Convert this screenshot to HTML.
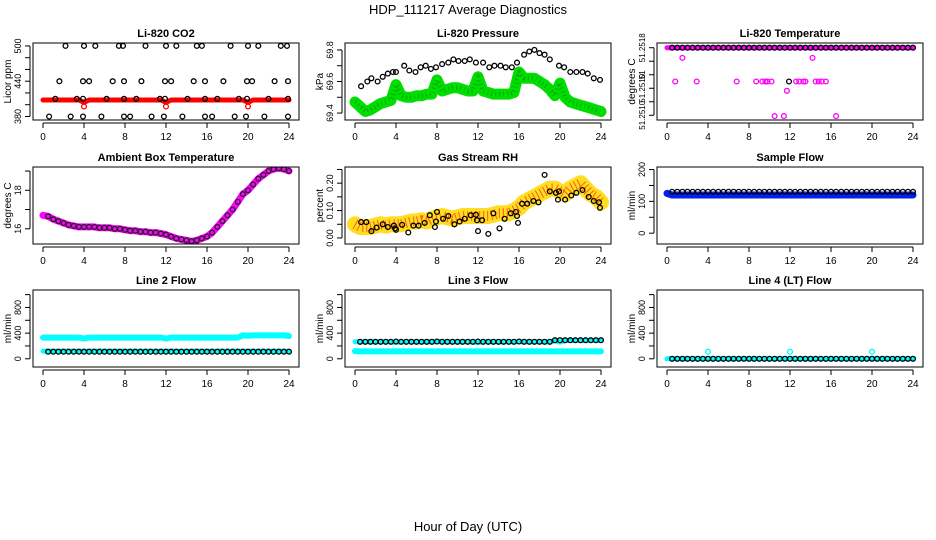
<!DOCTYPE html>
<html><head><meta charset="utf-8">
<style>
html,body{margin:0;padding:0;background:#fff;}
svg{display:block;font-family:"Liberation Sans",Arial,sans-serif;}
</style></head>
<body>
<svg id="chart" width="936" height="540" viewBox="0 0 936 540" xmlns="http://www.w3.org/2000/svg">
<text x="468" y="14" text-anchor="middle" font-size="13">HDP_111217  Average Diagnostics</text>
<text x="468" y="531" text-anchor="middle" font-size="13">Hour of Day (UTC)</text>
</svg>
<script>
// ---- data ----
const hours = [0,0.5,1,1.5,2,2.5,3,3.5,4,4.5,5,5.5,6,6.5,7,7.5,8,8.5,9,9.5,10,10.5,11,11.5,12,12.5,13,13.5,14,14.5,15,15.5,16,16.5,17,17.5,18,18.5,19,19.5,20,20.5,21,21.5,22,22.5,23,23.5,24];
const xTicks = [0,4,8,12,16,20,24];

const co2Red = [408,408,408,408,408,408,408,408,404,408,408,408,408,408,408,408,408,408,408,408,408,408,408,408,404,408,408,408,408,408,408,408,408,408,408,408,408,408,408,408,404,408,408,408,408,408,408,408,408];
const co2RedDipT = [4,12,20];
const co2RedDipV = [397,397,397];
const co2BlackT = [2.2,4,5.1,7.4,7.8,10,12,13,15,15.5,18.3,20,21,23.2,23.8, 1.6,3.9,4.5,6.8,7.9,9.6,11.9,12.5,14.7,15.8,17.6,19.9,20.4,22.6,23.9, 1.2,3.3,3.9,6.2,7.9,9.1,11.4,11.9,14.1,15.8,17,19.1,19.9,22,23.9, 0.6,2.7,3.9,5.7,7.9,8.5,10.6,11.8,13.6,15.8,16.5,18.7,19.8,21.6,23.9];
const co2BlackV = [500,500,500,500,500,500,500,500,500,500,500,500,500,500,500, 440,440,440,440,440,440,440,440,440,440,440,440,440,440,440, 410,410,410,410,410,410,410,410,410,410,410,410,410,410,410, 380,380,380,380,380,380,380,380,380,380,380,380,380,380,380];

const presGreen = [69.47,69.44,69.41,69.42,69.44,69.46,69.47,69.48,69.58,69.51,69.50,69.50,69.51,69.51,69.52,69.52,69.61,69.54,69.55,69.56,69.56,69.55,69.54,69.54,69.63,69.54,69.53,69.52,69.52,69.52,69.52,69.53,69.66,69.62,69.62,69.62,69.60,69.58,69.55,69.51,69.59,69.50,69.47,69.46,69.45,69.44,69.43,69.42,69.41];
const presBlackT = [0.6,1.2,1.6,2.2,2.7,3.2,3.7,4,4.8,5.3,5.9,6.4,6.9,7.4,7.9,8.5,9.1,9.6,10.1,10.7,11.2,11.8,12.5,13.1,13.6,14.2,14.7,15.3,15.8,16.5,17,17.5,18,18.5,19,19.9,20.4,21,21.6,22.2,22.7,23.3,23.9];
const presBlackV = [69.57,69.60,69.62,69.60,69.63,69.65,69.66,69.66,69.70,69.67,69.66,69.69,69.70,69.68,69.69,69.71,69.72,69.74,69.73,69.73,69.74,69.72,69.72,69.69,69.70,69.70,69.69,69.69,69.72,69.77,69.79,69.80,69.78,69.77,69.74,69.70,69.69,69.66,69.66,69.66,69.65,69.62,69.61];

const tempTopV = [51.2518,51.2518,51.2518,51.2518,51.2518,51.2518,51.2518,51.2518,51.2518,51.2518,51.2518,51.2518,51.2518,51.2518,51.2518,51.2518,51.2518,51.2518,51.2518,51.2518,51.2518,51.2518,51.2518,51.2518,51.2518,51.2518,51.2518,51.2518,51.2518,51.2518,51.2518,51.2518,51.2518,51.2518,51.2518,51.2518,51.2518,51.2518,51.2518,51.2518,51.2518,51.2518,51.2518,51.2518,51.2518,51.2518,51.2518,51.2518,51.2518];
const tempMagT = [0.8,1.5,2.9,6.8,8.7,9.3,9.6,9.8,10.2,10.5,11.4,11.7,12.6,12.9,13.3,13.5,14.2,14.5,14.8,15.1,15.5,16.5];
const tempMagV = [51.2514,51.25168,51.2514,51.2514,51.2514,51.2514,51.2514,51.2514,51.2514,51.25099,51.25099,51.25129,51.2514,51.2514,51.2514,51.2514,51.25168,51.2514,51.2514,51.2514,51.2514,51.25099];
const tempBlkT = [11.9];
const tempBlkV = [51.2514];

const ambient = [16.7,16.65,16.5,16.4,16.3,16.2,16.15,16.1,16.1,16.1,16.1,16.05,16.05,16.05,16.0,16.0,15.95,15.9,15.9,15.85,15.85,15.8,15.8,15.75,15.7,15.6,15.5,15.45,15.4,15.35,15.4,15.5,15.6,15.8,16.1,16.4,16.7,17.0,17.4,17.8,18.0,18.3,18.6,18.8,19.0,19.1,19.15,19.1,19.0];

const rhBand = [0.05,0.04,0.04,0.04,0.045,0.05,0.045,0.05,0.05,0.05,0.055,0.06,0.06,0.065,0.06,0.07,0.075,0.08,0.075,0.07,0.075,0.08,0.08,0.08,0.08,0.08,0.08,0.085,0.09,0.09,0.09,0.1,0.11,0.13,0.14,0.15,0.16,0.17,0.18,0.18,0.17,0.16,0.18,0.19,0.2,0.18,0.16,0.15,0.13];
const rhBlackT = [0.6,1.1,1.6,2.1,2.7,3.2,3.8,3.9,4.0,4.6,5.2,5.7,6.2,6.8,7.3,7.8,7.9,8.0,8.6,9.1,9.7,10.2,10.7,11.3,11.8,11.9,12,12.4,13.0,13.5,14.1,14.6,15.2,15.7,15.8,15.9,16.3,16.8,17.4,17.9,18.5,19.0,19.6,19.8,19.9,20.5,21.1,21.6,22.2,22.8,23.3,23.8,23.9];
const rhBlackV = [0.058,0.058,0.025,0.038,0.05,0.04,0.045,0.035,0.03,0.048,0.02,0.045,0.045,0.055,0.083,0.04,0.06,0.095,0.07,0.08,0.05,0.06,0.07,0.083,0.085,0.065,0.025,0.065,0.015,0.09,0.035,0.07,0.09,0.095,0.08,0.055,0.125,0.125,0.135,0.13,0.23,0.17,0.165,0.14,0.17,0.14,0.155,0.165,0.175,0.15,0.135,0.13,0.11];

const sampleBlue = [125,120,120,120,120,120,120,120,120,120,120,120,120,120,120,120,120,120,120,120,120,120,120,120,120,120,120,120,120,120,120,120,120,120,120,120,120,120,120,120,120,120,120,120,120,120,120,120,120];
const sampleBlack = [130,130,130,130,130,130,130,130,130,130,130,130,130,130,130,130,130,130,130,130,130,130,130,130,130,130,130,130,130,130,130,130,130,130,130,130,130,130,130,130,130,130,130,130,130,130,130,130,130];

const l2CyanHi = [330,330,330,330,330,330,330,330,315,330,330,330,330,330,330,330,330,330,330,330,330,330,330,330,315,330,330,330,330,330,330,330,330,330,330,330,330,330,330,365,360,365,365,365,365,365,365,365,355];
const l2CyanLo = [120,120,120,120,120,120,120,120,120,120,120,120,120,120,120,120,120,120,120,120,120,120,120,120,120,120,120,120,120,120,120,120,120,120,120,120,120,120,120,120,120,120,120,120,120,120,120,120,120];
const l2Black = [110,110,110,110,110,110,110,110,110,110,110,110,110,110,110,110,110,110,110,110,110,110,110,110,110,110,110,110,110,110,110,110,110,110,110,110,110,110,110,110,110,110,110,110,110,110,110,110,110];

const l3CyanHi = [265,265,265,265,265,265,265,265,250,265,265,265,265,265,265,265,265,265,265,265,265,265,265,265,250,265,265,265,265,265,265,265,265,265,265,265,265,265,265,280,260,285,285,285,285,285,285,285,285];
const l3CyanLo = [120,115,115,115,115,115,115,115,115,115,115,115,115,115,115,115,115,115,115,115,115,115,115,115,115,115,115,115,115,115,115,115,115,115,115,115,115,115,115,115,115,115,115,115,115,115,115,115,115];
const l3Black = [265,265,265,265,265,265,265,265,270,265,265,265,265,265,265,265,270,265,265,265,265,265,265,265,270,265,265,265,265,265,265,265,270,265,265,265,265,265,265,290,290,290,290,290,290,290,290,290,290];

const l4Cyan = [0,0,0,0,0,0,0,0,0,0,0,0,0,0,0,0,0,0,0,0,0,0,0,0,0,0,0,0,0,0,0,0,0,0,0,0,0,0,0,0,0,0,0,0,0,0,0,0,0];
const l4Black = [0,0,0,0,0,0,0,0,0,0,0,0,0,0,0,0,0,0,0,0,0,0,0,0,0,0,0,0,0,0,0,0,0,0,0,0,0,0,0,0,0,0,0,0,0,0,0,0,0];
const l4SpikeT = [4,12,20];
const l4SpikeV = [110,110,110];

// ---- rendering ----
const NS = "http://www.w3.org/2000/svg";
const svg = document.getElementById('chart');
function mk(tag, attrs, parent){
  const e = document.createElementNS(NS, tag);
  for (const k in attrs) e.setAttribute(k, attrs[k]);
  (parent||svg).appendChild(e);
  return e;
}
const colX = [33,345,657];
const rowY = [43,167,290];
const BW = 266, BH = 77;

function panel(key, col, row, title, ylab, ymin, ymax, yTicks, yLabels, series, yfs){
  const g = mk('g', {});
  
  
  const bx = colX[col], by = rowY[row];
  const xs = h => bx + 10 + h * 10.25;
  const ys = v => by + BH - (v - ymin) / (ymax - ymin) * BH;
  const cid = 'clip-' + key;
  const cp = mk('clipPath', {id: cid}, g);
  mk('rect', {x: bx, y: by, width: BW, height: BH}, cp);
  const mg = mk('g', {'clip-path': 'url(#' + cid + ')'}, g);
  
  
  for (const s of series){
    if (s.band){
      const pts = s.x.map((t,i) => xs(t).toFixed(1) + ',' + ys(s.y[i]).toFixed(1)).join(' ');
      const pl = mk('polyline', {points: pts, fill: 'none', stroke: s.color, 'stroke-width': s.band, 'stroke-linejoin': 'round', 'stroke-linecap': 'round'}, mg);
      
      
      if (s.inner){
        const p2 = mk('polyline', {points: pts, fill: 'none', stroke: s.inner, 'stroke-width': Math.max(1, s.band - 6), 'stroke-dasharray': '1 3', 'stroke-opacity': s.innerOp || 0.6, 'stroke-linejoin': 'round'}, mg);
        
        
      }
    }
    if (s.pts){
      s.x.forEach((t,i) => {
        const c = mk('circle', {cx: xs(t).toFixed(1), cy: ys(s.y[i]).toFixed(1), r: 2.4, fill: 'none', stroke: s.pcolor || s.color, 'stroke-width': 1.3}, mg);
        
        
      });
    }
  }
  const box = mk('rect', {x: bx, y: by, width: BW, height: BH, fill: 'none', stroke: '#000', 'stroke-width': 1}, g);
  
  
  const tt = mk('text', {x: bx + BW/2, y: by - 6, 'text-anchor': 'middle', 'font-size': 11, 'font-weight': 'bold'}, g);
  tt.textContent = title;
  
  
  const ay = by + BH + 3;
  const xa = mk('line', {x1: xs(xTicks[0]), x2: xs(xTicks[xTicks.length-1]), y1: ay, y2: ay, stroke: '#000'}, g);
  
  
  xTicks.forEach(t => {
    mk('line', {x1: xs(t), x2: xs(t), y1: ay, y2: ay + 5, stroke: '#000'}, g);
    const tl = mk('text', {x: xs(t), y: ay + 17, 'text-anchor': 'middle', 'font-size': 10}, g);
    tl.textContent = String(t);
    
    
  });
  const ax = bx - 3;
  const y0 = ys(yTicks[0]), y1 = ys(yTicks[yTicks.length-1]);
  const ya = mk('line', {x1: ax, x2: ax, y1: y0, y2: y1, stroke: '#000'}, g);
  
  
  yTicks.forEach((v,i) => {
    mk('line', {x1: ax - 5, x2: ax, y1: ys(v), y2: ys(v), stroke: '#000'}, g);
    if (yLabels[i]){
      const lx = ax - 9, ly = ys(v);
      const tl = mk('text', {x: lx, y: ly, 'text-anchor': 'middle', 'font-size': yfs || 9, transform: 'rotate(-90 ' + lx + ' ' + ly + ')'}, g);
      tl.textContent = yLabels[i];
      
      
    }
  });
  const yl = by + BH/2, xl = bx - 22;
  const ytl = mk('text', {x: xl, y: yl, 'text-anchor': 'middle', 'font-size': 10, transform: 'rotate(-90 ' + xl + ' ' + yl + ')'}, g);
  ytl.textContent = ylab;
  
  
}

panel('co2', 0, 0, 'Li-820 CO2', 'Licor ppm', 374, 505, [380,400,420,440,460,480,500], ['380','','','440','','','500'], [
  {name:'co2-red', x: hours, y: co2Red, color:'#ff0000', band: 5, pts: false},
  {name:'co2-red-dip', x: co2RedDipT, y: co2RedDipV, color:'#ff0000', pts: true},
  {name:'co2-black', x: co2BlackT, y: co2BlackV, color:'#000', pts: true}
]);
panel('pressure', 1, 0, 'Li-820 Pressure', 'kPa', 69.356, 69.844, [69.4,69.5,69.6,69.7,69.8], ['69.4','','69.6','','69.8'], [
  {name:'pressure-green', x: hours, y: presGreen, color:'#00dd00', band: 11, inner:'#005500', innerOp: 0.35, pts: false},
  {name:'pressure-black', x: presBlackT, y: presBlackV, color:'#000', pts: true}
]);
panel('temperature', 2, 0, 'Li-820 Temperature', 'degrees C', 51.250944, 51.251856, [51.2510,51.25116,51.25132,51.25148,51.25164,51.2518], ['51.2510','','51.2510','51','','51.2518'], [
  {name:'temp-magenta', x: hours, y: tempTopV, color:'#ff00ff', band: 5, pts: false},
  {name:'temp-black', x: hours.slice(1), y: tempTopV.slice(1), color:'#000', pts: true},
  {name:'temp-magenta-scatter', x: tempMagT, y: tempMagV, color:'#ff00ff', pts: true},
  {name:'temp-black-scatter', x: tempBlkT, y: tempBlkV, color:'#000', pts: true}
], 8);
panel('ambient', 0, 1, 'Ambient Box Temperature', 'degrees C', 15.21, 19.21, [16,17,18,19], ['16','','18',''], [
  {name:'ambient-magenta', x: hours, y: ambient, color:'#ff00ff', band: 7, pts: false},
  {name:'ambient-black', x: hours.slice(1), y: ambient.slice(1), color:'#000', pcolor:'#222', pts: true}
]);
panel('rh', 1, 1, 'Gas Stream RH', 'percent', -0.022, 0.259, [0,0.05,0.1,0.15,0.2,0.25], ['0.00','','0.10','','0.20',''], [
  {name:'rh-orange', x: hours, y: rhBand, color:'#ffdd22', band: 16, inner:'#ff2200', innerOp: 0.7, pts: false},
  {name:'rh-black', x: rhBlackT, y: rhBlackV, color:'#000', pts: true}
]);
panel('sample-flow', 2, 1, 'Sample Flow', 'ml/min', -34, 208, [0,50,100,150,200], ['0','','100','','200'], [
  {name:'sample-blue', x: hours, y: sampleBlue, color:'#0022ee', band: 7, pts: false},
  {name:'sample-black', x: hours.slice(1), y: sampleBlack.slice(1), color:'#000', pts: true}
]);
panel('line2', 0, 2, 'Line 2 Flow', 'ml/min', -128, 1072, [0,200,400,600,800,1000], ['0','','400','','800',''], [
  {name:'line2-cyan-high', x: hours, y: l2CyanHi, color:'#00ffff', band: 6, pts: false},
  {name:'line2-cyan-low', x: hours, y: l2CyanLo, color:'#00ffff', band: 5, pts: false},
  {name:'line2-black', x: hours.slice(1), y: l2Black.slice(1), color:'#000', pts: true}
]);
panel('line3', 1, 2, 'Line 3 Flow', 'ml/min', -128, 1072, [0,200,400,600,800,1000], ['0','','400','','800',''], [
  {name:'line3-cyan-high', x: hours, y: l3CyanHi, color:'#00ffff', band: 5, pts: false},
  {name:'line3-cyan-low', x: hours, y: l3CyanLo, color:'#00ffff', band: 6, pts: false},
  {name:'line3-black', x: hours.slice(1), y: l3Black.slice(1), color:'#000', pts: true}
]);
panel('line4', 2, 2, 'Line 4 (LT) Flow', 'ml/min', -128, 1072, [0,200,400,600,800,1000], ['0','','400','','800',''], [
  {name:'line4-cyan', x: hours, y: l4Cyan, color:'#00ffff', band: 5, pts: false},
  {name:'line4-black', x: hours.slice(1), y: l4Black.slice(1), color:'#000', pts: true},
  {name:'line4-cyan-spike', x: l4SpikeT, y: l4SpikeV, color:'#00ffff', pts: true}
]);
</script>
</body></html>
